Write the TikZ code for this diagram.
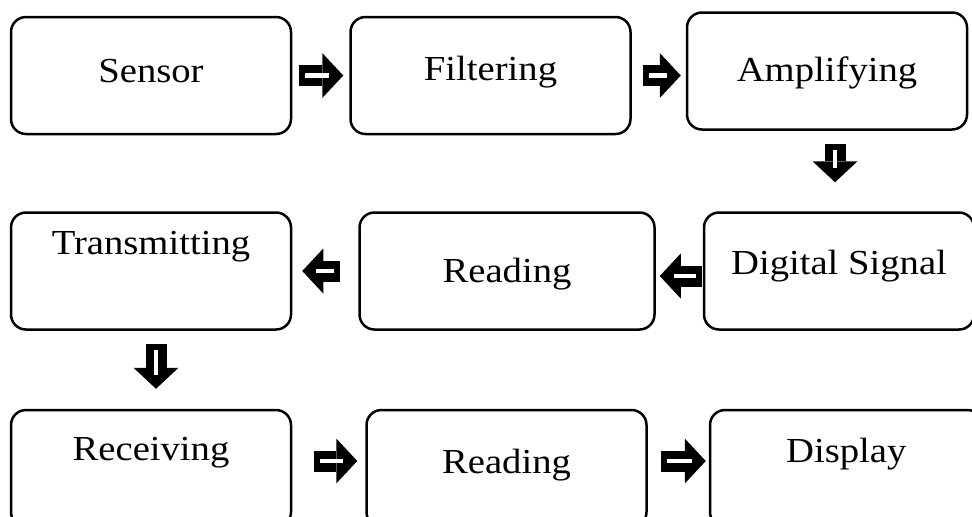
\documentclass[tikz,border=0pt]{standalone}
\usepackage{fontspec}
\setmainfont{Liberation Serif}[FakeStretch=1.1]
\usetikzlibrary{arrows.meta, positioning}

\begin{document}
\begin{tikzpicture}[
    box/.style={rectangle, draw, line width=0.05cm, rounded corners=0.3cm, minimum width=5.6cm, minimum height=2.34cm, inner sep=0pt, font=\fontsize{20}{24}\selectfont, text height=13.2pt, text depth=0pt},
    lift/.style={text depth=#1},
    arrow/.style={line width=0.42cm, -{Triangle[width=0.9cm, length=0.42cm, line width=0pt]},
        postaction={draw=white, line width=0.09cm, -, shorten <=0.12cm, shorten >=0.28cm}}
]

\useasboundingbox (0,0) rectangle (19.44,-10.32);
\clip (0,0) rectangle (19.44,-10.32);

\node[box, lift=0.18cm] (sensor) at (3.02,-1.51) {Sensor};
\node[box, lift=0.28cm, right=1.14cm of sensor] (filter) {Filtering};
\node[box, lift=0.04cm, right=1.08cm of filter, yshift=0.09cm] (ampl) {Amplifying};

\node[box, lift=1.12cm, below=1.52cm of sensor] (trans) {Transmitting};
\node[box, minimum width=5.9cm, right=1.32cm of trans] (read1) {Reading};
\node[box, lift=0.32cm, minimum width=5.4cm, right=0.94cm of read1] (digital) {Digital Signal};

\node[box, lift=0.78cm, below=1.56cm of trans] (recv) {Receiving};
\node[box, lift=0.28cm, right=1.46cm of recv] (read2) {Reading};
\node[box, lift=0.7cm, minimum width=5.45cm, right=1.22cm of read2] (display) {Display};

\draw[arrow] ([xshift=0.14cm]sensor.east) -- ([xshift=-0.12cm]filter.west);
\draw[arrow] ([xshift=0.22cm]filter.east) -- ([xshift=-0.1cm]filter.east -| ampl.west);
\draw[arrow] ([xshift=0.16cm, yshift=-0.26cm]ampl.south) -- ([xshift=0.16cm, yshift=0.58cm]ampl.south |- digital.north);
\draw[arrow] ([xshift=-0.02cm, yshift=-0.1cm]digital.west) -- ([xshift=0.08cm, yshift=-0.1cm]digital.west -| read1.east);
\draw[arrow] ([xshift=-0.36cm]read1.west) -- ([xshift=0.2cm]read1.west -| trans.east);
\draw[arrow] ([xshift=0.1cm, yshift=-0.26cm]trans.south) -- ([xshift=0.1cm, yshift=0.4cm]trans.south |- recv.north);
\draw[arrow] ([xshift=0.44cm, yshift=0.15cm]recv.east) -- ([xshift=-0.16cm, yshift=0.15cm]recv.east -| read2.west);
\draw[arrow] ([xshift=0.26cm, yshift=0.15cm]read2.east) -- ([xshift=-0.06cm, yshift=0.15cm]read2.east -| display.west);

\end{tikzpicture}
\end{document}
